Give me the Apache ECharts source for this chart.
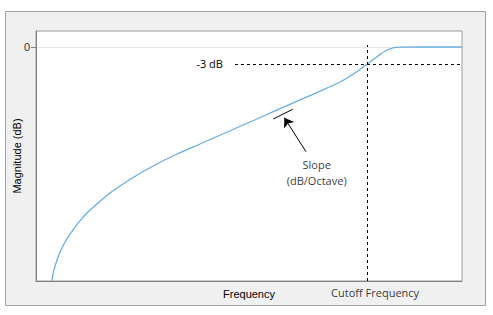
<!DOCTYPE html>
<html><head><meta charset="utf-8">
<script src="https://cdn.jsdelivr.net/npm/echarts@6/dist/echarts.min.js"></script>
<style>html,body{margin:0;padding:0;background:#fff}#c{width:493px;height:315px}</style>
</head><body><div id="c"></div>
<script>
// Frequency on an arbitrary linear scale (0..10), magnitude in dB
const freq      = [0.3685, 0.4225, 0.493, 0.5869, 0.7042, 0.8451, 1.0094, 1.2207, 1.4554, 1.7371, 2.0423, 2.3944, 2.7934, 3.2629, 3.8498, 4.4366, 5.0235, 5.6103, 6.1972, 6.6667, 7.1362, 7.4883, 7.777, 8.0282, 8.216, 8.3803, 8.5446, 10];
const magnitude = [-41.29, -39.35, -37.59, -35.82, -34.15, -32.56, -30.88, -29.12, -27.53, -25.76, -24.18, -22.5, -20.82, -19.06, -17.12, -15.18, -13.24, -11.29, -9.35, -7.8, -6.18, -4.59, -3.0, -1.59, -0.62, -0.14, -0.02, 0];
const cutoffFreq = 7.777;
const cutoffDb = -3;
const dbLineStartFreq = 4.67;
const slopeTickX = [5.57, 6.026];
const slopeTickY = [-12.71, -10.99];
const arrowX = [6.338, 5.829];
const arrowY = [-18.48, -12.48];
const slopeTextPos = [6.589, -22.23];
const cutoffTextPos = [7.96, -43.4];
const yTickValues = [0];
const texts = ['Frequency', 'Magnitude (dB)', 'Cutoff Frequency', 'Slope\n(dB/Octave)', '-3 dB'];

const yMin = -41.3, yMax = 2.82;

const chart = echarts.init(document.getElementById('c'), null, {renderer: 'svg'});
chart.setOption({
  animation: false,
  backgroundColor: '#fff',
  graphic: {
    elements: [{
      type: 'rect', z: -100, silent: true,
      shape: {x: 5.5, y: 11.5, width: 480, height: 294},
      style: {fill: '#f0f0f0', stroke: '#a0a0a0', lineWidth: 1}
    }]
  },
  grid: {left: 36, right: 31, top: 31, bottom: 34, show: true, backgroundColor: '#fff', borderColor: '#9a9a9a', borderWidth: 1,
    containLabel: false, outerBoundsMode: 'none'},
  xAxis: {
    type: 'value', min: 0, max: 10,
    axisLine: {show: true, onZero: false, lineStyle: {color: '#808080', width: 1}},
    axisTick: {show: false}, axisLabel: {show: false}, splitLine: {show: false},
    name: texts[0], nameLocation: 'middle', nameGap: 7, nameMoveOverlap: false,
    nameTextStyle: {fontFamily: 'Liberation Sans', fontSize: 11, fontWeight: 'normal', color: '#000'}
  },
  yAxis: {
    type: 'value', min: yMin, max: yMax, interval: -yMin,
    axisLine: {show: true, onZero: false, lineStyle: {color: '#808080', width: 1}},
    axisTick: {show: true, length: 5, customValues: yTickValues, lineStyle: {color: '#808080'}},
    axisLabel: {show: true, customValues: yTickValues, margin: 6, fontFamily: 'Liberation Sans', fontSize: 11, color: '#333',
      formatter: v => (Math.abs(v) < 1e-9 ? '0' : '')},
    splitLine: {show: true, lineStyle: {color: '#e6e6e6', width: 1}},
    name: texts[1], nameLocation: 'middle', nameGap: 14, nameMoveOverlap: false,
    nameTextStyle: {fontFamily: 'Liberation Sans', fontSize: 11, fontWeight: 'normal', color: '#000'}
  },
  series: [
    {
      type: 'line', data: freq.map((f, i) => [f, magnitude[i]]),
      smooth: 0.3, showSymbol: false, symbol: 'none',
      lineStyle: {color: '#6aaee0', width: 1.3}, z: 3,
      markLine: {
        silent: true, symbol: 'none', animation: false,
        lineStyle: {color: '#000', type: [3, 3], width: 1},
        label: {show: false},
        data: [
          [{coord: [dbLineStartFreq, cutoffDb], label: {show: true, position: 'start', distance: 12, formatter: texts[4],
              fontFamily: 'Open Sans', fontSize: 11, color: '#000'}},
           {coord: [10, cutoffDb]}],
          [{coord: [cutoffFreq, yMin]}, {coord: [cutoffFreq, 0.35]}]
        ]
      }
    },
    {
      type: 'line', data: slopeTickX.map((x, i) => [x, slopeTickY[i]]),
      showSymbol: false, symbol: 'none', lineStyle: {color: '#000', width: 1}, z: 4,
      markLine: {
        silent: true, symbol: ['none', 'arrow'], symbolSize: 9,
        lineStyle: {color: '#000', type: 'solid', width: 1},
        label: {show: false},
        data: [[{coord: [arrowX[0], arrowY[0]]}, {coord: [arrowX[1], arrowY[1]]}]]
      }
    },
    {
      type: 'scatter', clip: false, symbolSize: 0, silent: true,
      data: [
        {value: slopeTextPos, label: {formatter: texts[3]}},
        {value: cutoffTextPos, label: {formatter: texts[2]}}
      ],
      label: {show: true, position: 'inside', fontFamily: 'Open Sans', fontSize: 11, color: '#000', lineHeight: 16, align: 'center', verticalAlign: 'middle'}
    }
  ]
});
</script></body></html>
